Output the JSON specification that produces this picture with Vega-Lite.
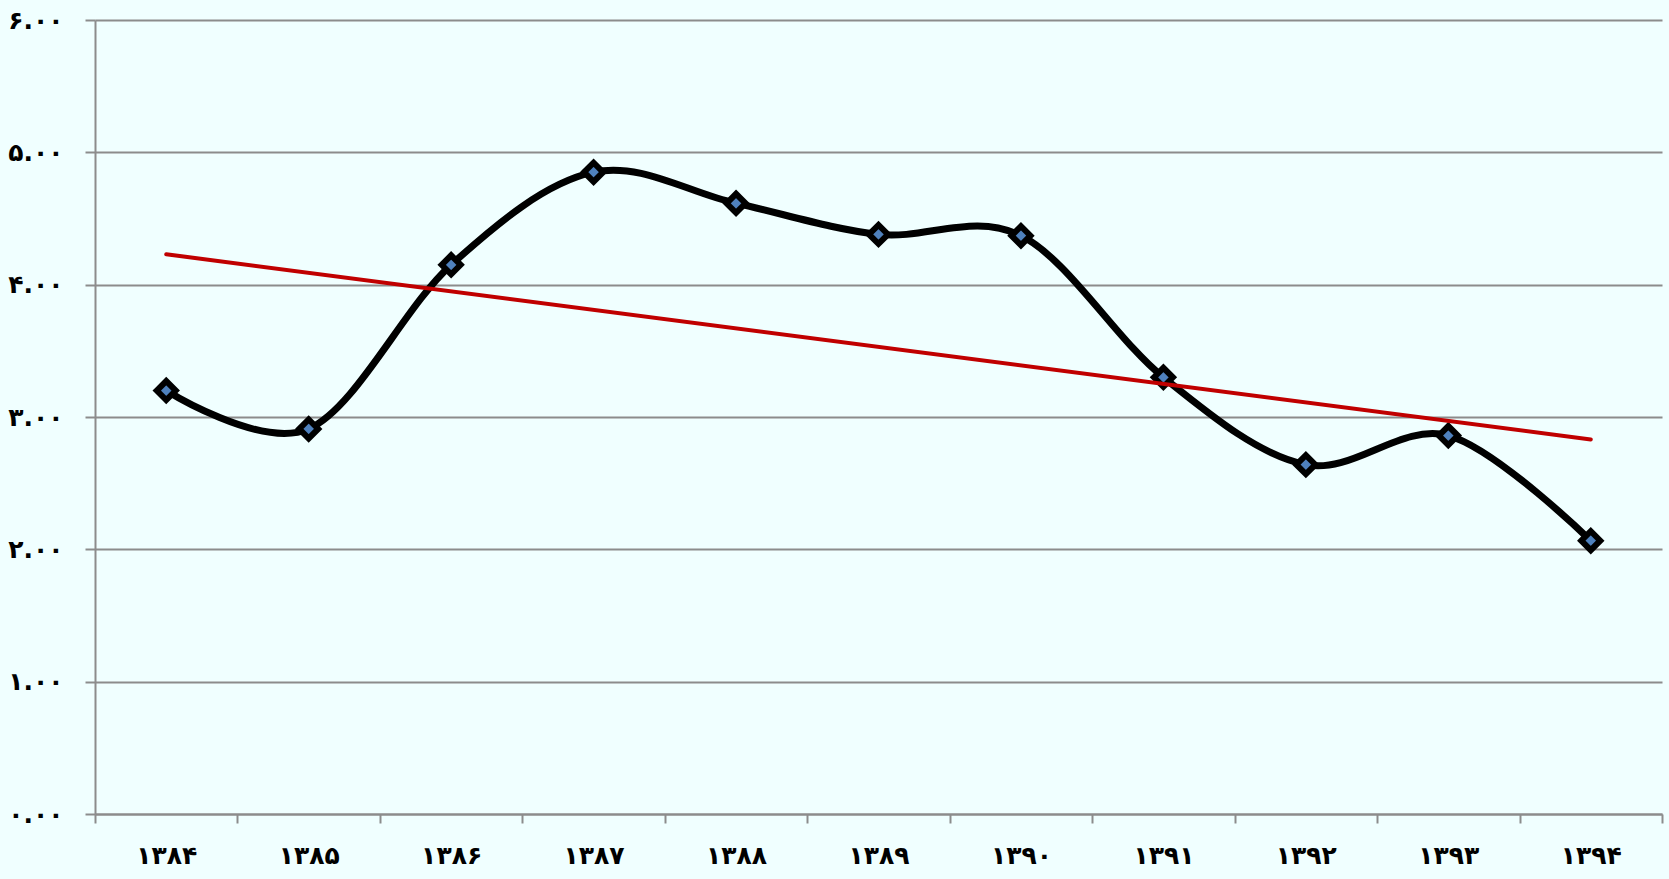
{
  "$schema": "https://vega.github.io/schema/vega-lite/v6.json",
  "width": 1567,
  "height": 794,
  "autosize": {"type": "none"},
  "padding": {"left": 95, "top": 20, "right": 7, "bottom": 65},
  "background": "#F0FFFF",
  "config": {
    "view": {"stroke": null},
    "axis": {"labelFont": "DejaVu Sans", "labelFontWeight": "bold", "labelColor": "#000000", "labelOverlap": false}
  },
  "datasets": {
    "series": [
      {"year": "۱۳۸۴", "value": 3.20},
      {"year": "۱۳۸۵", "value": 2.91},
      {"year": "۱۳۸۶", "value": 4.15},
      {"year": "۱۳۸۷", "value": 4.85},
      {"year": "۱۳۸۸", "value": 4.615},
      {"year": "۱۳۸۹", "value": 4.38},
      {"year": "۱۳۹۰", "value": 4.37},
      {"year": "۱۳۹۱", "value": 3.30},
      {"year": "۱۳۹۲", "value": 2.64},
      {"year": "۱۳۹۳", "value": 2.86},
      {"year": "۱۳۹۴", "value": 2.065}
    ],
    "trend": [
      {"year": "۱۳۸۴", "value": 4.23},
      {"year": "۱۳۹۴", "value": 2.83}
    ]
  },
  "encoding": {
    "x": {
      "field": "year", "type": "ordinal", "sort": null,
      "scale": {"type": "band", "paddingInner": 0, "paddingOuter": 0,
        "domain": ["۱۳۸۴","۱۳۸۵","۱۳۸۶","۱۳۸۷","۱۳۸۸","۱۳۸۹","۱۳۹۰","۱۳۹۱","۱۳۹۲","۱۳۹۳","۱۳۹۴"]},
      "axis": {
        "title": null, "labelAngle": 0, "labelFontSize": 25, "labelPadding": 20,
        "domainColor": "#8C8C8C", "domainWidth": 2, "tickColor": "#8C8C8C", "tickWidth": 2,
        "tickSize": 9, "tickBand": "extent", "grid": false
      }
    },
    "y": {
      "field": "value", "type": "quantitative",
      "scale": {"domain": [0, 6], "nice": false, "zero": true},
      "axis": {
        "title": null, "values": [0, 1, 2, 3, 4, 5, 6],
        "labelExpr": "['۰.۰۰','۱.۰۰','۲.۰۰','۳.۰۰','۴.۰۰','۵.۰۰','۶.۰۰'][datum.value]",
        "labelFontSize": 25, "labelPadding": 22,
        "domainColor": "#8C8C8C", "domainWidth": 2, "tickColor": "#8C8C8C", "tickWidth": 2, "tickSize": 10,
        "grid": true, "gridColor": "#8C8C8C", "gridWidth": 2
      }
    }
  },
  "layer": [
    {
      "data": {"name": "series"},
      "mark": {"type": "line", "interpolate": "cardinal", "color": "#000000", "strokeWidth": 7}
    },
    {
      "data": {"name": "series"},
      "mark": {"type": "point", "shape": "diamond", "filled": true, "fill": "#4F81BD", "stroke": "#000000", "strokeWidth": 6, "size": 360, "opacity": 1}
    },
    {
      "data": {"name": "trend"},
      "mark": {"type": "line", "color": "#C00000", "strokeWidth": 4, "strokeCap": "round"}
    }
  ]
}
